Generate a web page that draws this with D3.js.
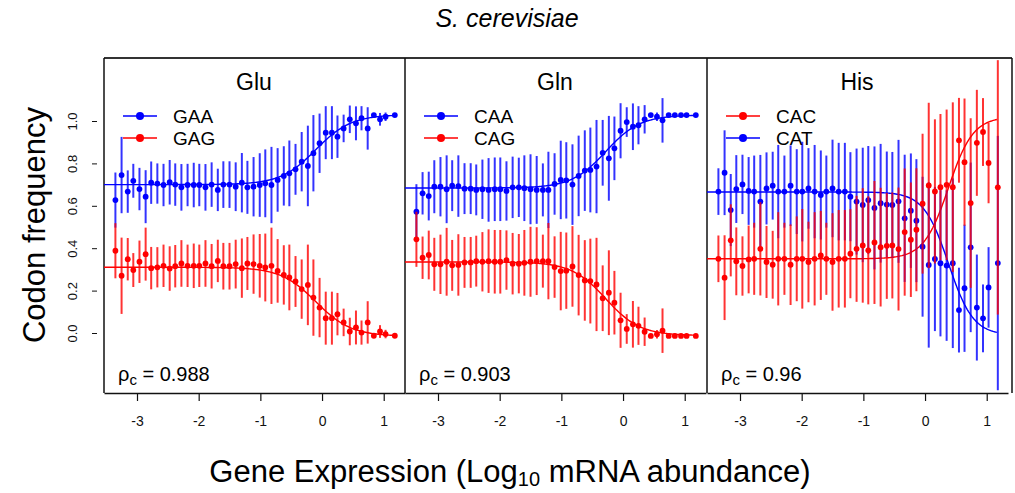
<!DOCTYPE html>
<html>
<head>
<meta charset="utf-8">
<script src="https://cdn.jsdelivr.net/npm/d3@7"></script>
<style>
  body { margin: 0; background: #fff; }
  svg { font-family: "Liberation Sans", Arial, Helvetica, sans-serif; }
</style>
</head>
<body>
<svg id="chart" width="1015" height="493"></svg>
<script>
// expression bins (log10 mRNA abundance), shared by the three panels
const xVals = [-3.35, -3.25, -3.15, -3.06, -2.96, -2.86, -2.77, -2.67, -2.57, -2.47,
  -2.38, -2.28, -2.18, -2.08, -1.99, -1.89, -1.79, -1.69, -1.60, -1.50,
  -1.40, -1.30, -1.21, -1.11, -1.01, -0.92, -0.82, -0.72, -0.62, -0.53,
  -0.43, -0.33, -0.23, -0.14, -0.04, 0.06, 0.16, 0.25, 0.35, 0.45,
  0.55, 0.64, 0.74, 0.84, 0.94, 1.03, 1.18];

// Glu
const gluGAA = [0.627, 0.745, 0.667, 0.718, 0.679, 0.643, 0.709, 0.705, 0.698, 0.711,
  0.700, 0.687, 0.698, 0.698, 0.698, 0.687, 0.700, 0.675, 0.700, 0.700,
  0.690, 0.709, 0.687, 0.690, 0.698, 0.706, 0.698, 0.722, 0.741, 0.753,
  0.772, 0.808, 0.788, 0.848, 0.895, 0.945, 0.945, 0.926, 0.965, 1.008,
  0.989, 1.013, 0.965, 1.028, 1.008, 1.020, 1.028];
const gluGAG = [0.388, 0.270, 0.348, 0.297, 0.336, 0.372, 0.306, 0.310, 0.317, 0.304,
  0.315, 0.328, 0.317, 0.317, 0.317, 0.328, 0.315, 0.340, 0.315, 0.315,
  0.325, 0.306, 0.328, 0.325, 0.317, 0.309, 0.317, 0.293, 0.274, 0.262,
  0.243, 0.207, 0.227, 0.167, 0.120, 0.070, 0.070, 0.089, 0.050, 0.007,
  0.026, 0.002, 0.050, -0.013, 0.007, -0.005, -0.013];
const gluSD = [0.13, 0.18, 0.10, 0.08, 0.10, 0.125, 0.10, 0.095, 0.10, 0.105,
  0.10, 0.11, 0.10, 0.105, 0.10, 0.11, 0.105, 0.10, 0.11, 0.11,
  0.115, 0.14, 0.125, 0.14, 0.15, 0.16, 0.18, 0.15, 0.14, 0.155,
  0.12, 0.14, 0.19, 0.18, 0.14, 0.125, 0.125, 0.10, 0.065, 0.065,
  0.08, 0.057, 0.10, 0, 0.03, 0.02, 0];
const gluFitGAA = {from: 0.70, to: 1.03, mid: -0.1, rate: 3.5};
const gluFitGAG = {from: 0.31, to: -0.015, mid: -0.1, rate: 3.5};

// Gln
const glnCAA = [0.572, 0.659, 0.646, 0.690, 0.690, 0.678, 0.695, 0.693, 0.681, 0.681,
  0.675, 0.678, 0.675, 0.678, 0.678, 0.670, 0.687, 0.687, 0.683, 0.678,
  0.675, 0.675, 0.675, 0.703, 0.722, 0.720, 0.700, 0.741, 0.766, 0.769,
  0.785, 0.850, 0.824, 0.871, 0.954, 0.995, 0.973, 0.980, 1.008, 1.028,
  1.020, 1.003, 1.028, 1.028, 1.028, 1.028, 1.028];
const glnCAG = [0.442, 0.355, 0.368, 0.324, 0.324, 0.336, 0.319, 0.321, 0.333, 0.333,
  0.339, 0.336, 0.339, 0.336, 0.336, 0.344, 0.327, 0.327, 0.331, 0.336,
  0.339, 0.339, 0.339, 0.311, 0.292, 0.294, 0.314, 0.273, 0.248, 0.245,
  0.229, 0.164, 0.190, 0.143, 0.060, 0.019, 0.041, 0.034, 0.006, -0.014,
  -0.006, 0.011, -0.014, -0.014, -0.014, -0.014, -0.014];
const glnSD = [0.13, 0.10, 0.115, 0.125, 0.14, 0.16, 0.12, 0.145, 0.12, 0.12,
  0.12, 0.14, 0.15, 0.15, 0.15, 0.14, 0.145, 0.14, 0.155, 0.165,
  0.16, 0.125, 0.18, 0.145, 0.185, 0.18, 0.19, 0.19, 0.19, 0.20,
  0.22, 0.155, 0.20, 0.15, 0.13, 0.07, 0.11, 0.09, 0.067, 0.01,
  0.02, 0.105, 0, 0, 0, 0, 0];
const glnFitCAA = {from: 0.684, to: 1.028, mid: -0.28, rate: 3.6};
const glnFitCAG = {from: 0.335, to: -0.012, mid: -0.28, rate: 3.6};

// His
const hisCAT = [0.667, 0.756, 0.580, 0.679, 0.701, 0.670, 0.667, 0.620, 0.682, 0.695,
  0.667, 0.667, 0.695, 0.667, 0.667, 0.682, 0.667, 0.651, 0.667, 0.682,
  0.667, 0.667, 0.643, 0.620, 0.604, 0.627, 0.590, 0.612, 0.606, 0.604,
  0.621, 0.541, 0.577, 0.530, 0.407, 0.321, 0.349, 0.329, 0.318, 0.329,
  0.108, 0.211, 0.404, 0.120, 0.069, 0.215, 0.330];
const hisCAC = [0.350, 0.261, 0.437, 0.338, 0.316, 0.347, 0.350, 0.397, 0.335, 0.322,
  0.350, 0.350, 0.322, 0.350, 0.350, 0.335, 0.350, 0.366, 0.350, 0.335,
  0.350, 0.350, 0.374, 0.397, 0.413, 0.390, 0.427, 0.405, 0.411, 0.413,
  0.396, 0.476, 0.440, 0.487, 0.610, 0.696, 0.668, 0.688, 0.699, 0.688,
  0.909, 0.806, 0.613, 0.897, 0.948, 0.802, 0.687];
const hisSD = [0.11, 0.20, 0.17, 0.16, 0.14, 0.16, 0.17, 0.22, 0.17, 0.16,
  0.22, 0.17, 0.19, 0.20, 0.235, 0.19, 0.22, 0.21, 0.17, 0.23,
  0.23, 0.23, 0.21, 0.25, 0.27, 0.255, 0.29, 0.28, 0.25, 0.25,
  0.29, 0.30, 0.27, 0.29, 0.33, 0.39, 0.34, 0.345, 0.355, 0.40,
  0.20, 0.30, 0.40, 0.25, 0.16, 0.19, 0.60];
const hisFitCAC = {from: 0.35, to: 1.02, mid: 0.38, rate: 5};
const hisFitCAT = {from: 0.665, to: -0.01, mid: 0.38, rate: 5};

const xTicks = [-3, -2, -1, 0, 1];
const yTicks = [0.0, 0.2, 0.4, 0.6, 0.8, 1.0];

const BLUE = "#0000ff", RED = "#ff0000";

const panels = [
  {title: "Glu", rho: "0.988", sd: gluSD, series: [
    {name: "GAA", color: BLUE, values: gluGAA, fit: gluFitGAA},
    {name: "GAG", color: RED, values: gluGAG, fit: gluFitGAG}]},
  {title: "Gln", rho: "0.903", sd: glnSD, series: [
    {name: "CAA", color: BLUE, values: glnCAA, fit: glnFitCAA},
    {name: "CAG", color: RED, values: glnCAG, fit: glnFitCAG}]},
  {title: "His", rho: "0.96", sd: hisSD, series: [
    {name: "CAC", color: RED, values: hisCAC, fit: hisFitCAC},
    {name: "CAT", color: BLUE, values: hisCAT, fit: hisFitCAT}]}
];

const svg = d3.select("#chart");
const plotTop = 58, plotBottom = 393;
const panelLeft = [104, 405, 707];
const panelW = 301;

const y = d3.scaleLinear().domain([0, 1]).range([333, 121]);

// title
svg.append("text")
  .attr("x", 507).attr("y", 27)
  .attr("text-anchor", "middle")
  .style("font-size", "25px").style("font-style", "italic")
  .text("S. cerevisiae");

// top rule across all panels
svg.append("line")
  .attr("x1", panelLeft[0]).attr("x2", 1012)
  .attr("y1", plotTop).attr("y2", plotTop)
  .attr("stroke", "#333").attr("stroke-width", 2);

// vertical separators
[104, 405, 707, 1012].forEach(function(xx) {
  svg.append("line")
    .attr("x1", xx).attr("x2", xx)
    .attr("y1", plotTop).attr("y2", plotBottom)
    .attr("stroke", "#111").attr("stroke-width", 1.5);
});

function fitValue(f, xv) {
  return f.from + (f.to - f.from) / (1 + Math.exp(-f.rate * (xv - f.mid)));
}

panels.forEach(function(p, pi) {
  const left = panelLeft[pi];
  const x = d3.scaleLinear().domain([-3.535, 1.345]).range([left, left + panelW]);
  const g = svg.append("g");

  // x axis
  const xAxis = d3.axisBottom(x)
    .tickValues(xTicks)
    .tickFormat(function(d) { return String(d); })
    .tickSizeInner(8)
    .tickSizeOuter(0)
    .tickPadding(15);
  const ax = g.append("g")
    .attr("transform", "translate(0," + plotBottom + ")")
    .call(xAxis);
  ax.select(".domain").attr("stroke", "#111").attr("stroke-width", 1.5);
  ax.selectAll(".tick line").attr("stroke", "#111").attr("stroke-width", 1.2);
  ax.selectAll("text").style("font-size", "14px").attr("fill", "#111")
    .style("font-family", "'Liberation Sans', Arial, sans-serif");

  // panel title
  g.append("text")
    .attr("x", left + 150).attr("y", 90)
    .attr("text-anchor", "middle")
    .style("font-size", "23px")
    .text(p.title);

  // draw blue before red
  const drawOrder = p.series.slice().sort(function(a, b) {
    return (a.color === BLUE ? 0 : 1) - (b.color === BLUE ? 0 : 1);
  });

  // fitted curves
  const xs = d3.range(x.domain()[0], xVals[xVals.length - 1] + 0.001, 0.02);
  drawOrder.forEach(function(s) {
    g.append("path")
      .datum(xs)
      .attr("fill", "none")
      .attr("stroke", s.color)
      .attr("stroke-width", 1.4)
      .attr("d", d3.line()
        .x(function(d) { return x(d); })
        .y(function(d) { return y(fitValue(s.fit, d)); }));
  });

  // error bars and points
  drawOrder.forEach(function(s) {
    const pts = s.values.map(function(v, i) { return {x: xVals[i], v: v, sd: p.sd[i]}; });
    g.append("g").selectAll("line")
      .data(pts.filter(function(d) { return d.sd > 0; }))
      .join("line")
      .attr("x1", function(d) { return x(d.x); })
      .attr("x2", function(d) { return x(d.x); })
      .attr("y1", function(d) { return y(d.v - d.sd); })
      .attr("y2", function(d) { return y(d.v + d.sd); })
      .attr("stroke", s.color)
      .attr("stroke-opacity", 0.8)
      .attr("stroke-width", 2);
    g.append("g").selectAll("circle")
      .data(pts)
      .join("circle")
      .attr("cx", function(d) { return x(d.x); })
      .attr("cy", function(d) { return y(d.v); })
      .attr("r", 2.9)
      .attr("fill", s.color);
  });

  // legend
  p.series.forEach(function(s, i) {
    const ly = 116 + i * 22;
    g.append("line")
      .attr("x1", left + 19).attr("x2", left + 53)
      .attr("y1", ly).attr("y2", ly)
      .attr("stroke", s.color).attr("stroke-width", 1.5);
    g.append("circle")
      .attr("cx", left + 36).attr("cy", ly).attr("r", 4)
      .attr("fill", s.color);
    g.append("text")
      .attr("x", left + 69).attr("y", ly + 7)
      .style("font-size", "19px")
      .text(s.name);
  });

  // concordance
  const rt = g.append("text")
    .attr("x", left + 14).attr("y", 381)
    .style("font-size", "20px");
  rt.append("tspan").text("\u03c1");
  rt.append("tspan").attr("dy", 4).style("font-size", "15px").text("c");
  rt.append("tspan").attr("dy", -4).text(" = " + p.rho);
});

// y axis on the first panel
const yAxis = d3.axisLeft(y)
  .tickValues(yTicks)
  .tickFormat(d3.format(".1f"))
  .tickSizeInner(5)
  .tickSizeOuter(0);
const ay = svg.append("g")
  .attr("transform", "translate(97,0)")
  .call(yAxis);
ay.select(".domain").remove();
ay.selectAll(".tick line").attr("stroke", "#111");
ay.selectAll("text")
  .attr("x", null).attr("dy", null)
  .attr("transform", "translate(-20,0) rotate(-90)")
  .attr("text-anchor", "middle")
  .style("font-size", "13px").attr("fill", "#111")
  .style("font-family", "'Liberation Sans', Arial, sans-serif");

// axis titles
svg.append("text")
  .attr("transform", "translate(45,225) rotate(-90)")
  .attr("text-anchor", "middle")
  .style("font-size", "31px")
  .text("Codon frequency");

const xl = svg.append("text")
  .attr("x", 510).attr("y", 482)
  .attr("text-anchor", "middle")
  .style("font-size", "31px");
xl.append("tspan").text("Gene Expression (Log");
xl.append("tspan").attr("dy", 4).style("font-size", "20px").text("10");
xl.append("tspan").attr("dy", -4).text(" mRNA abundance)");
</script>
</body>
</html>
